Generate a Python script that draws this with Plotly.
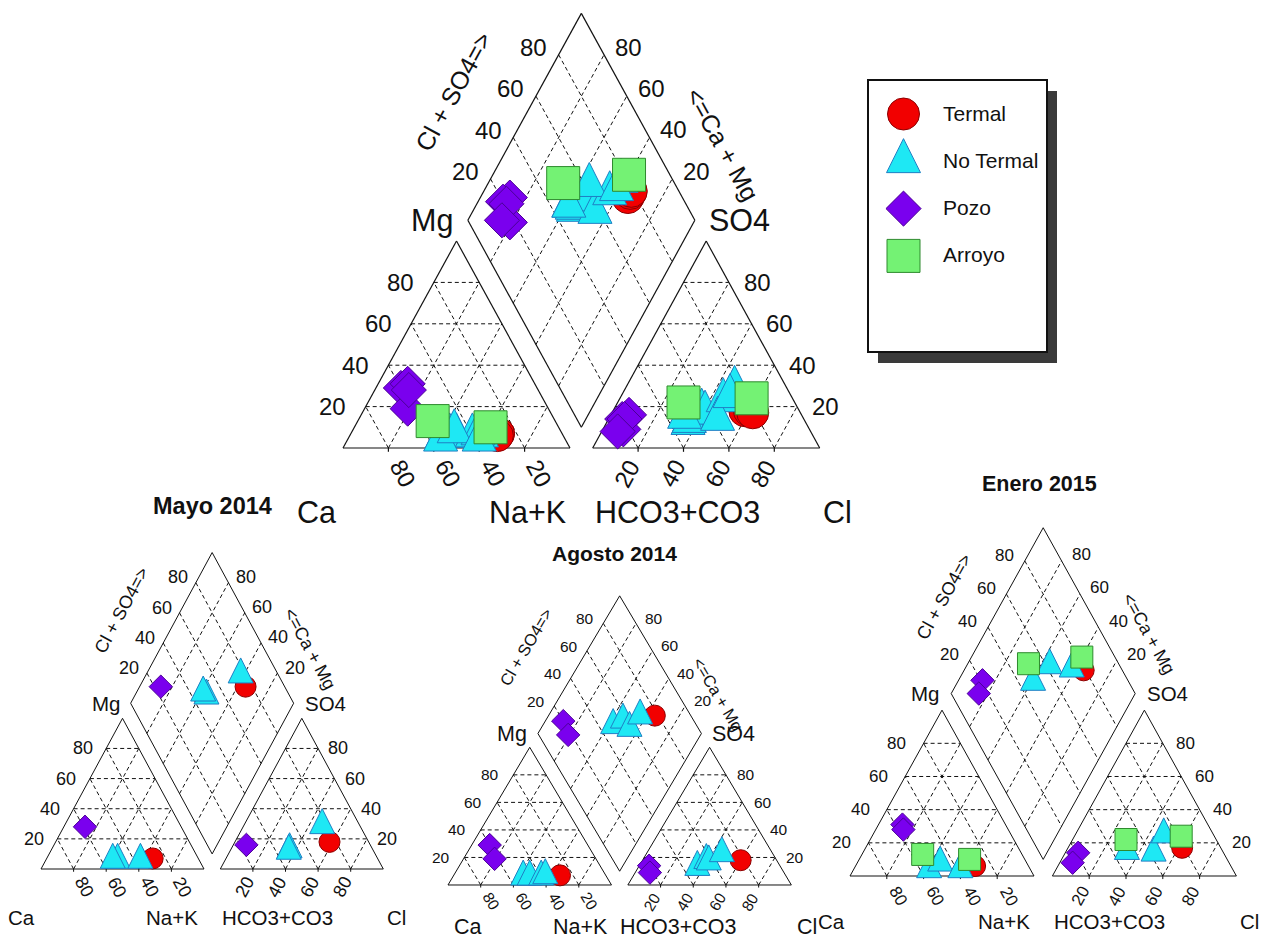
import math
import plotly.graph_objects as go

W, H = 1273, 939
R3 = math.sqrt(3) / 2
FONT = "Liberation Sans, Arial, sans-serif"

# Water samples, % meq/L: (Ca, Mg, Na+K, HCO3+CO3, SO4, Cl)
mayo_termal = [(28, 7, 65, 24, 18, 58)]
mayo_no_termal = [(50, 6, 44, 51, 13, 36), (53, 6, 41, 52, 12, 36), (36, 6, 58, 23, 29, 48)]
mayo_pozo = [(59, 28, 13, 76, 16, 8)]
mayo_arroyo = []

agosto_termal = [(28, 7, 65, 22, 18, 60)]
agosto_no_termal = [(51, 6, 43, 51, 13, 36), (47, 6, 47, 43, 18, 39),
                    (40, 6, 54, 42, 17, 41), (37, 7, 56, 31, 23, 46)]
agosto_pozo = [(60, 29, 11, 80, 14, 6), (62, 19, 19, 82, 9, 9)]
agosto_arroyo = []

enero_termal = [(29, 6, 65, 21, 17, 62)]
enero_no_termal = [(55, 4, 41, 52, 15, 33), (47, 8, 45, 38, 14, 48), (38, 4, 58, 27, 25, 48)]
enero_pozo = [(56, 31, 13, 79, 14, 7), (57, 28, 15, 85, 8, 7)]
enero_arroyo = [(54, 13, 33, 49, 22, 29), (30, 10, 60, 18, 24, 58)]

groups = ["Termal", "No Termal", "Pozo", "Arroyo"]
tick_values = [20, 40, 60, 80]

mayo = dict(zip(groups, [mayo_termal, mayo_no_termal, mayo_pozo, mayo_arroyo]))
agosto = dict(zip(groups, [agosto_termal, agosto_no_termal, agosto_pozo, agosto_arroyo]))
enero = dict(zip(groups, [enero_termal, enero_no_termal, enero_pozo, enero_arroyo]))
todos = {g: mayo[g] + agosto[g] + enero[g] for g in groups}

# marker look per group
MARK = {
    "Termal": dict(symbol="circle", color="#f20000", line="#8c0000"),
    "No Termal": dict(symbol="arrow-down", color="#1ee8f4", line="#1f7fc4"),
    "Pozo": dict(symbol="diamond", color="#7a00ee", line="#4a0095"),
    "Arroyo": dict(symbol="square", color="#74f274", line="#2e8a2e"),
}
SIZE_BIG = {"Termal": 32, "No Termal": 34, "Pozo": 27, "Arroyo": 33}
SIZE_SMALL = {"Termal": 21, "No Termal": 25, "Pozo": 18, "Arroyo": 22}


def marker(group, size):
    m = MARK[group]
    d = dict(symbol=m["symbol"], color=m["color"], size=size,
             line=dict(color=m["line"], width=1), opacity=1)
    if m["symbol"] == "arrow-down":
        d.update(angle=180, standoff=size * 2 / 3)
    return d


# Piper geometry (triangle side 100, gap 10)
def cation_xy(ca, mg, na):
    t = ca + mg + na
    return 100 * (na + mg / 2) / t, 100 * R3 * mg / t


def anion_xy(hc, so4, cl):
    t = hc + so4 + cl
    return 110 + 100 * (cl + so4 / 2) / t, 100 * R3 * so4 / t


def diamond_xy(n, c):
    return 55 + 50 * (n + c), 110 * R3 + 100 * R3 * (c - n)


def sample_points(s):
    ca, mg, na, hc, so4, cl = s
    n = na / (ca + mg + na)
    c = (so4 + cl) / (hc + so4 + cl)
    return [cation_xy(ca, mg, na), anion_xy(hc, so4, cl), diamond_xy(n, c)]


fig = go.Figure()
annotations = []

UR = (-20, 229)
VR = (-32, 187)


def segs(pairs):
    xs, ys = [], []
    for (a, b) in pairs:
        xs += [a[0], b[0], None]
        ys += [a[1], b[1], None]
    return xs, ys


def add_panel(idx, x0, y0, sx, sy, data, sizes, fonts, names, rot_pos, lw):
    f_tick, f_name, f_rot = fonts
    xa, ya = f"x{idx}", f"y{idx}"
    fig.update_layout(**{
        f"xaxis{idx}": dict(domain=[(x0 + UR[0] * sx) / W, (x0 + UR[1] * sx) / W],
                            range=list(UR), visible=False, fixedrange=True, anchor=ya),
        f"yaxis{idx}": dict(domain=[1 - (y0 - VR[0] * sy) / H, 1 - (y0 - VR[1] * sy) / H],
                            range=list(VR), visible=False, fixedrange=True, anchor=xa),
    })
    ang = math.degrees(math.atan2(100 * R3 * sy, 50 * sx))

    # dashed grid
    grid = []
    for k in tick_values:
        grid.append((cation_xy(100 - k, k, 0), cation_xy(0, k, 100 - k)))
        grid.append((cation_xy(100 - k, 0, k), cation_xy(0, 100 - k, k)))
        grid.append((cation_xy(k, 0, 100 - k), cation_xy(k, 100 - k, 0)))
        grid.append((anion_xy(100 - k, k, 0), anion_xy(0, k, 100 - k)))
        grid.append((anion_xy(100 - k, 0, k), anion_xy(0, 100 - k, k)))
        grid.append((anion_xy(k, 0, 100 - k), anion_xy(k, 100 - k, 0)))
        f = k / 100
        grid.append((diamond_xy(0, f), diamond_xy(1, f)))
        grid.append((diamond_xy(f, 0), diamond_xy(f, 1)))
    gx, gy = segs(grid)
    fig.add_trace(go.Scatter(x=gx, y=gy, xaxis=xa, yaxis=ya, mode="lines", hoverinfo="skip",
                             line=dict(color="#111", width=1, dash="4px,3px")))

    # outlines and base ticks
    outline = [
        (cation_xy(100, 0, 0), cation_xy(0, 0, 100)), (cation_xy(0, 0, 100), cation_xy(0, 100, 0)),
        (cation_xy(0, 100, 0), cation_xy(100, 0, 0)),
        (anion_xy(100, 0, 0), anion_xy(0, 0, 100)), (anion_xy(0, 0, 100), anion_xy(0, 100, 0)),
        (anion_xy(0, 100, 0), anion_xy(100, 0, 0)),
        (diamond_xy(0, 0), diamond_xy(1, 0)), (diamond_xy(1, 0), diamond_xy(1, 1)),
        (diamond_xy(1, 1), diamond_xy(0, 1)), (diamond_xy(0, 1), diamond_xy(0, 0)),
    ]
    for k in tick_values:
        outline.append(((100 - k, 0), (100 - k, -1.6)))
        outline.append(((110 + k, 0), (110 + k, -1.6)))
    ox, oy = segs(outline)
    fig.add_trace(go.Scatter(x=ox, y=oy, xaxis=xa, yaxis=ya, mode="lines", hoverinfo="skip",
                             line=dict(color="#111", width=lw)))

    # samples
    for g in groups:
        pts = [p for s in data[g] for p in sample_points(s)]
        if not pts:
            continue
        fig.add_trace(go.Scatter(x=[p[0] for p in pts], y=[p[1] for p in pts], xaxis=xa, yaxis=ya,
                                 mode="markers", name=g, marker=marker(g, sizes[g]),
                                 cliponaxis=False))

    def txt(t, u, v, size, anchor="center", angle=0):
        annotations.append(dict(text=t, x=u, y=v, xref=xa, yref=ya, showarrow=False,
                                xanchor=anchor, yanchor="middle", textangle=angle,
                                font=dict(family=FONT, size=size, color="#111")))

    for k in tick_values:
        u, v = cation_xy(100 - k, k, 0)
        txt(str(k), u - 14.5, v, f_tick)
        u, v = anion_xy(0, k, 100 - k)
        txt(str(k), u + 12.5, v, f_tick)
        txt(str(k), 100 - k + 6.5, -10.5, f_tick, angle=ang)
        txt(str(k), 110 + k - 5, -10.5, f_tick, angle=-ang)
        u, v = diamond_xy(0, k / 100)
        txt(str(k), u - 11, v + 3, f_tick)
        u, v = diamond_xy(1 - k / 100, 1)
        txt(str(k), u + 10.7, v + 3.2, f_tick)

    (u_ca, a_ca), u_na, u_hc, u_cl, v_nm = names
    txt("Ca", u_ca, v_nm, f_name, anchor=a_ca)
    txt("Na+K", u_na, v_nm, f_name, anchor="right")
    txt("HCO3+CO3", u_hc, v_nm, f_name, anchor="left")
    txt("Cl", u_cl, v_nm, f_name, anchor="left")
    txt("Mg", 49.5, 110 * R3, f_name, anchor="right")
    txt("SO4", 160.5, 110 * R3, f_name, anchor="left")
    (ul, vl), (ur, vr) = rot_pos
    txt("Cl + SO4=>", ul, vl, f_rot, angle=-ang)
    txt("<=Ca + Mg", ur, vr, f_rot, angle=ang)


add_panel(1, 343, 448, 2.27, 2.39, todos, SIZE_BIG, (24, 30.5, 25),
          ((-2.2, "right"), 99, 110, 210.5, -26.8), ((48.5, 149), (167, 127)), 1.2)
add_panel(2, 41, 869, 1.63, 1.74, mayo, SIZE_SMALL, (18, 20.5, 18),
          ((-2.6, "right"), 97.5, 110, 211, -28), ((49.5, 149), (165, 126.5)), 1)
add_panel(3, 448, 885, 1.635, 1.59, agosto, SIZE_SMALL, (15.5, 21.5, 16.5),
          ((2.3, "left"), 99, 104, 212, -26.2), ((47.5, 150), (165, 120)), 1)
add_panel(4, 850, 876, 1.84, 1.915, enero, SIZE_SMALL, (17, 20.5, 18),
          ((-1.8, "right"), 99, 109.6, 211, -24), ((51.5, 146), (162.5, 126.5)), 1)

# season titles
for t, px, py, fs in [("Mayo 2014", 212, 506, 23.5), ("Agosto 2014", 614, 553, 21),
                      ("Enero 2015", 1039, 484, 21.5)]:
    annotations.append(dict(text=f"<b>{t}</b>", x=px / W, y=1 - py / H, xref="paper", yref="paper",
                            showarrow=False, xanchor="center", yanchor="middle",
                            font=dict(family=FONT, size=fs, color="#111")))

# legend box drawn on a page-sized axis
fig.update_layout(
    xaxis5=dict(domain=[0, 1], range=[0, W], visible=False, fixedrange=True, anchor="y5"),
    yaxis5=dict(domain=[0, 1], range=[H, 0], visible=False, fixedrange=True, anchor="x5"),
)
shapes = [
    dict(type="rect", xref="x5", yref="y5", x0=878, y0=91, x1=1057, y1=363, layer="below",
         fillcolor="#3a3a3a", line=dict(width=0)),
    dict(type="rect", xref="x5", yref="y5", x0=868, y0=80, x1=1047, y1=352, layer="below",
         fillcolor="white", line=dict(color="#111", width=2)),
]
for i, g in enumerate(groups):
    y = 114 + 47.3 * i
    fig.add_trace(go.Scatter(x=[903.5], y=[y], xaxis="x5", yaxis="y5", mode="markers",
                             marker=marker(g, SIZE_BIG[g]), cliponaxis=False, hoverinfo="skip"))
    annotations.append(dict(text=g, x=941, y=y - 1, xref="x5", yref="y5", showarrow=False,
                            xanchor="left", yanchor="middle",
                            font=dict(family=FONT, size=21, color="#111")))

fig.update_layout(
    width=W, height=H, autosize=False,
    margin=dict(l=0, r=0, t=0, b=0, pad=0),
    paper_bgcolor="white", plot_bgcolor="rgba(0,0,0,0)",
    showlegend=False, annotations=annotations, shapes=shapes,
)

fig.write_html("out.html")
